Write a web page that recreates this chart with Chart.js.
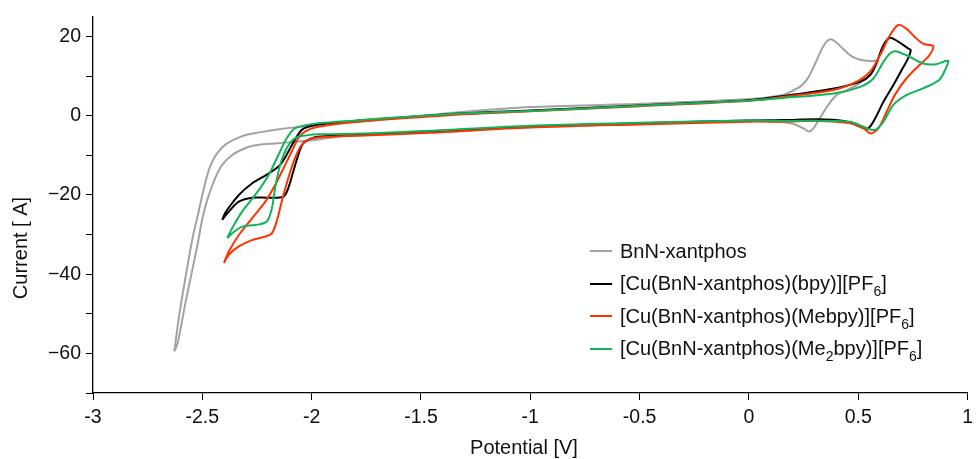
<!DOCTYPE html>
<html><head><meta charset="utf-8">
<script src="https://cdn.jsdelivr.net/npm/chart.js@4/dist/chart.umd.min.js"></script>
<style>
html,body{margin:0;padding:0;background:#fff;}
#wrap{position:relative;width:979px;height:459px;overflow:hidden;}
#legend{position:absolute;left:590px;top:235px;font-family:"Liberation Sans",Arial,sans-serif;font-size:20px;color:#111;}
.row{height:32.5px;display:flex;align-items:center;white-space:nowrap;}
.sw{display:inline-block;width:22px;height:2px;margin-right:8px;}
sub{font-size:14px;vertical-align:-6px;line-height:0;}
</style></head>
<body><div id="wrap"><canvas id="c" width="979" height="459"></canvas><div id="legend"></div></div>
<script>
// ---- data ----
const xTicks = [-3, -2.5, -2, -1.5, -1, -0.5, 0, 0.5, 1];
const yTicks = [-70, -60, -50, -40, -30, -20, -10, 0, 10, 20];
const yLabelled = [20, 0, -20, -40, -60];
const xTitle = "Potential [V]";
const yTitle = "Current [ A]";
const seriesNames = [
  "BnN-xantphos",
  "[Cu(BnN-xantphos)(bpy)][PF<sub>6</sub>]",
  "[Cu(BnN-xantphos)(Mebpy)][PF<sub>6</sub>]",
  "[Cu(BnN-xantphos)(Me<sub>2</sub>bpy)][PF<sub>6</sub>]"
];
const seriesColors = ["#a3a3a3", "#000000", "#ff3300", "#13b35a"];

const bnnX = [-2.628,-2.61,-2.59,-2.565,-2.545,-2.52,-2.5,-2.48,-2.46,-2.43,-2.39,-2.32,-2.24,-2.15,-2.0,-1.8,-1.6,-1.3,-1.0,-0.5,0.0,0.15,0.2,0.24,0.27,0.3,0.33,0.355,0.375,0.40,0.43,0.47,0.52,0.57,0.59,0.575,0.55,0.5,0.45,0.40,0.36,0.32,0.295,0.275,0.25,0.2,0.1,0.0,-0.5,-1.0,-1.5,-1.8,-2.0,-2.1,-2.17,-2.24,-2.29,-2.36,-2.42,-2.47,-2.5,-2.52,-2.55,-2.58,-2.613,-2.628];
const bnnY = [-59.5,-52,-45,-37,-31,-25,-20,-15.5,-12.2,-9.3,-7.1,-5.2,-4.2,-3.4,-2.5,-1.5,-0.6,1.0,2.2,3.0,4.2,5.2,6.3,7.6,9.5,12.8,16.5,18.7,19.3,18.5,16.9,15.0,14.0,13.8,14.0,12,10,8,6.5,5.2,2.5,-1,-3.2,-4.0,-3.2,-2.0,-1.4,-1.3,-2.0,-2.7,-4.0,-4.8,-6.2,-6.7,-7.0,-7.3,-7.9,-9.8,-13.3,-20,-26,-32,-40,-48,-57.5,-59.5];

const bpyX = [-2.409,-2.395,-2.379,-2.333,-2.273,-2.197,-2.144,-2.107,-2.077,-2.046,-2.016,-1.97,-1.8,-1.6,-1.3,-1.0,-0.5,0,0.16,0.39,0.51,0.555,0.585,0.615,0.645,0.683,0.728,0.74,0.728,0.698,0.66,0.615,0.577,0.546,0.52,0.493,0.433,0.31,0.16,0,-0.5,-1.0,-1.46,-1.76,-1.97,-2.0,-2.039,-2.061,-2.084,-2.107,-2.129,-2.197,-2.273,-2.333,-2.379,-2.409];
const bpyY = [-26.3,-24.5,-23.2,-20,-17.1,-14.6,-12.4,-9.1,-6.1,-3.6,-2.8,-2.2,-1.3,-0.5,0.6,1.3,2.6,3.9,5.0,6.9,8.6,10.3,13.6,17.8,19.7,18.7,17.0,16.6,14.5,11.5,7.7,3.5,-0.7,-3.2,-3.0,-2.4,-1.3,-0.9,-1.1,-1.2,-1.9,-2.7,-4.0,-4.7,-5.3,-5.7,-7.0,-9.9,-14.1,-18.3,-20.4,-20.7,-20.7,-21.7,-24.2,-26.3];

const mebpyX = [-2.401,-2.379,-2.333,-2.273,-2.212,-2.167,-2.129,-2.092,-2.061,-2.031,-1.97,-1.8,-1.6,-1.3,-1.0,-0.5,0,0.16,0.387,0.493,0.554,0.6,0.645,0.683,0.72,0.758,0.796,0.834,0.844,0.826,0.78,0.72,0.667,0.63,0.592,0.557,0.524,0.463,0.312,0.16,0,-0.5,-1.0,-1.46,-1.76,-1.97,-2.016,-2.046,-2.077,-2.107,-2.137,-2.16,-2.182,-2.212,-2.273,-2.333,-2.379,-2.401];
const mebpyY = [-37.2,-34.3,-30.1,-25.9,-21.7,-17.5,-13.3,-9.1,-5.7,-4.0,-2.8,-1.6,-0.7,0.4,1.1,2.4,3.8,4.8,6.5,8.6,11.1,15.3,20.3,22.9,22.0,19.9,18.2,17.8,17.4,15.3,12.8,9.4,5.2,1.0,-3.2,-4.5,-3.2,-1.9,-1.3,-1.5,-1.5,-2.2,-3.0,-4.3,-5.0,-5.5,-6.1,-7.4,-10.8,-15.8,-21.7,-26.7,-29.7,-30.5,-31.4,-33,-35.1,-37.2];

const me2bpyX = [-2.386,-2.364,-2.318,-2.258,-2.197,-2.152,-2.114,-2.077,-2.016,-1.97,-1.8,-1.6,-1.3,-1.0,-0.5,0,0.16,0.387,0.509,0.569,0.615,0.645,0.667,0.72,0.796,0.856,0.9,0.912,0.9,0.87,0.796,0.72,0.66,0.615,0.577,0.524,0.463,0.16,0,-0.5,-1.0,-1.46,-1.76,-1.97,-2.016,-2.077,-2.114,-2.144,-2.167,-2.182,-2.205,-2.258,-2.318,-2.364,-2.386];
const me2bpyY = [-30.9,-28.4,-24.2,-20,-15,-9.9,-5.7,-3.2,-2.3,-1.9,-1.2,-0.4,0.6,1.2,2.5,3.8,4.5,5.6,7.3,9.4,13.6,15.7,16.3,15.3,13.2,13.0,13.8,13.8,11.9,9.0,6.9,5.2,2.7,-1.5,-3.6,-2.8,-1.5,-1.3,-1.2,-1.8,-2.5,-3.8,-4.5,-4.7,-4.9,-5.7,-8.2,-12.4,-18.3,-23.4,-26.7,-27.6,-28,-29.7,-30.9];

// ---- build ----
const FONT = '"Liberation Sans", Arial, sans-serif';
const pts = (xs, ys) => xs.map((x, i) => ({x: x, y: ys[i]}));
const seriesData = [pts(bnnX,bnnY), pts(bpyX,bpyY), pts(mebpyX,mebpyY), pts(me2bpyX,me2bpyY)];
const drawOrder = [4, 3, 2, 1];

const datasets = seriesData.map((d, i) => ({
  label: seriesNames[i].replace(/<\/?sub>/g, ''),
  data: d,
  showLine: true,
  borderColor: seriesColors[i],
  backgroundColor: seriesColors[i],
  borderWidth: 2,
  pointRadius: 0,
  tension: 0.3,
  fill: false,
  order: drawOrder[i]
}));

const titlePlugin = {
  id: 'axisTitles',
  afterDraw(chart) {
    const c = chart.ctx;
    c.save();
    c.fillStyle = '#111';
    c.font = '20px ' + FONT;
    c.textAlign = 'center';
    c.textBaseline = 'middle';
    c.fillText(xTitle, 524, 448);
    c.translate(21, 248);
    c.rotate(-Math.PI / 2);
    c.fillText(yTitle, 0, 0);
    c.restore();
  }
};

new Chart(document.getElementById('c'), {
  type: 'scatter',
  data: { datasets: datasets },
  options: {
    responsive: false,
    animation: false,
    layout: { padding: { left: 0, right: 4, top: 15, bottom: 0 } },
    plugins: { legend: { display: false }, tooltip: { enabled: false } },
    scales: {
      x: {
        type: 'linear', min: -3, max: 1,
        afterBuildTicks: s => { s.ticks = xTicks.map(v => ({ value: v })); },
        afterFit: s => { s.height = 66; },
        grid: { display: true, drawOnChartArea: false, drawTicks: true, tickLength: 7, color: '#000', lineWidth: 1 },
        border: { display: true, color: '#000', width: 1.3 },
        ticks: { font: { family: FONT, size: 19.5 }, color: '#111', padding: 6, maxRotation: 0, autoSkip: false,
          callback: v => String(v) }
      },
      y: {
        type: 'linear', min: -70, max: 25,
        afterBuildTicks: s => { s.ticks = yTicks.map(v => ({ value: v })); },
        afterFit: s => { s.width = 93; },
        grid: { display: true, drawOnChartArea: false, drawTicks: true, tickLength: 7, color: '#000', lineWidth: 1 },
        border: { display: true, color: '#000', width: 1.3 },
        ticks: { font: { family: FONT, size: 19.5 }, color: '#111', padding: 5, autoSkip: false,
          callback: v => yLabelled.includes(v) ? (v < 0 ? '\u2212' + Math.abs(v) : String(v)) : '' }
      }
    }
  },
  plugins: [titlePlugin]
});

// legend (HTML so subscripts stay real text)
const lg = document.getElementById('legend');
seriesNames.forEach((n, i) => {
  const r = document.createElement('div');
  r.className = 'row';
  r.innerHTML = '<span class="sw" style="background:' + seriesColors[i] + '"></span><span>' + n + '</span>';
  lg.appendChild(r);
});
</script>
</body></html>
